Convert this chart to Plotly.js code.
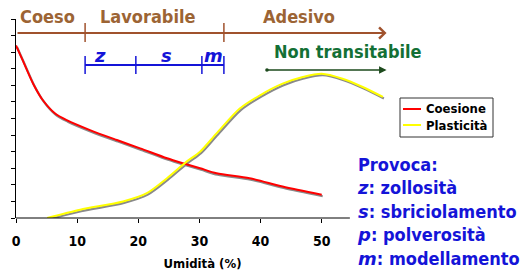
<!DOCTYPE html>
<html>
<head>
<meta charset="utf-8">
<script src="https://cdn.plot.ly/plotly-3.0.1.min.js"></script>
<style>html,body{margin:0;padding:0;background:#fff}#chart{width:521px;height:271px}</style>
</head>
<body>
<div id="chart"></div>
<script>
// ---- data ----
var humidityC = [0, 1.1, 2.8, 4.4, 6.4, 8.3, 12.1, 16.5, 20.3, 24.7, 27.3, 30.1, 32.8, 38.2, 43.6, 50];
var cohesion  = [10.4, 9.5, 8.1, 7.1, 6.3, 5.9, 5.3, 4.7, 4.2, 3.6, 3.3, 3.0, 2.7, 2.4, 1.9, 1.4];
var humidityP = [5.1, 10.5, 17.5, 21.4, 24.7, 27.9, 30.1, 32.8, 36.6, 39.9, 43.6, 46.9, 50, 53.4, 56.7, 60];
var plasticity = [0, 0.5, 1.0, 1.5, 2.4, 3.4, 4.0, 5.1, 6.6, 7.4, 8.1, 8.5, 8.7, 8.4, 7.9, 7.3];
var xTicks = [0, 10, 20, 30, 40, 50];
var seriesNames = ['Coesione', 'Plasticità'];
var seriesColors = ['#ff0000', '#ffff00'];
var zoneNames = ['Coeso', 'Lavorabile', 'Adesivo'];
var zoneLimits = [11.3, 34.0];          // humidity limits between zones
var workLetters = ['z', 's', 'm'];
var workLimits = [11.3, 19.6, 30.4, 34.0];
var nonTransitStart = 40.8;
var xMax = 60.6;
var provocaKeys = ['z', 's', 'p', 'm'];
var provocaWords = ['zollosità', 'sbriciolamento', 'polverosità', 'modellamento'];

var FONT = 'DejaVu Sans Condensed, DejaVu Sans, Verdana, sans-serif';
var ITAL = '<span style="font-family:\'DejaVu Sans\'"><i>';
var BROWN_T = '#9c6434', BROWN_L = '#a0522d', BLUE = '#1414d8', GREEN_T = '#137035', GREEN_L = '#1d4a1d';

var pxX = 1 / (373 / 61), pxY = 1 / (199 / 12);
function yp(py) { return (218 - py) / 199; }
function xp(px) { return (px - 16) / 373; }

var traces = [
  {x: humidityC, y: cohesion, xaxis: 'x2', yaxis: 'y2', mode: 'lines', line: {color: '#8a8a8a', width: 2.2, shape: 'spline', smoothing: 0.8}, showlegend: false, hoverinfo: 'skip'},
  {x: humidityP, y: plasticity, xaxis: 'x2', yaxis: 'y2', mode: 'lines', line: {color: '#8a8a8a', width: 2.2, shape: 'spline', smoothing: 0.8}, showlegend: false, hoverinfo: 'skip'},
  {x: humidityC, y: cohesion, xaxis: 'x3', yaxis: 'y3', name: seriesNames[0], mode: 'lines', line: {color: seriesColors[0], width: 2, shape: 'spline', smoothing: 0.8}, showlegend: false},
  {x: humidityP, y: plasticity, xaxis: 'x3', yaxis: 'y3', name: seriesNames[1], mode: 'lines', line: {color: seriesColors[1], width: 2, shape: 'spline', smoothing: 0.8}, showlegend: false}
];

var shapes = [
  {type: 'line', xref: 'x', yref: 'paper', x0: 0, x1: 54.6, y0: 0, y1: 0, line: {color: '#000', width: 1}}
];
zoneLimits.forEach(function (v) {
  shapes.push({type: 'line', xref: 'x', yref: 'paper', x0: v, x1: v, y0: yp(23), y1: yp(42), line: {color: BROWN_L, width: 1.5}});
});
shapes.push({type: 'line', xref: 'x', yref: 'paper', x0: workLimits[0], x1: workLimits[workLimits.length - 1], y0: yp(65), y1: yp(65), line: {color: BLUE, width: 2}});
workLimits.forEach(function (v) {
  shapes.push({type: 'line', xref: 'x', yref: 'paper', x0: v, x1: v, y0: yp(56), y1: yp(74), line: {color: BLUE, width: 1.5}});
});
// legend box (manual)
shapes.push({type: 'rect', xref: 'paper', yref: 'paper', x0: xp(400), x1: xp(493), y0: yp(98), y1: yp(137), line: {color: '#333', width: 1}, fillcolor: '#fff'});
seriesNames.forEach(function (n, i) {
  var py = 109 + i * 16;
  shapes.push({type: 'line', xref: 'paper', yref: 'paper', x0: xp(403), x1: xp(421), y0: yp(py), y1: yp(py), line: {color: seriesColors[i], width: 2}});
});

var annotations = [];
// brown arrow
annotations.push({xref: 'x', yref: 'paper', x: xMax, y: yp(33), axref: 'x', ayref: 'pixel', ax: 0, ay: 0,
  text: '', showarrow: true, arrowhead: 4, arrowsize: 1.1, arrowwidth: 2, arrowcolor: BROWN_L, font: {size: 1}});
// green arrow
annotations.push({xref: 'x', yref: 'paper', x: xMax, y: yp(70), axref: 'x', ayref: 'pixel', ax: nonTransitStart, ay: 0,
  text: '', showarrow: true, arrowhead: 2, startarrowhead: 6, arrowside: 'end+start', arrowsize: 1, startarrowsize: 0.6, arrowwidth: 1.5, arrowcolor: GREEN_L, font: {size: 1}});
// zone labels
var zoneCenters = [5.2, 21.6, 46.3];
zoneNames.forEach(function (n, i) {
  annotations.push({xref: 'x', yref: 'paper', x: zoneCenters[i], y: yp(17), xanchor: 'center', yanchor: 'middle', text: n, showarrow: false,
    font: {family: FONT, size: 18, weight: 'bold', color: BROWN_T}});
});
var letterCenters = [13.8, 24.6, 32.3];
workLetters.forEach(function (n, i) {
  annotations.push({xref: 'x', yref: 'paper', x: letterCenters[i], y: yp(55), xanchor: 'center', yanchor: 'middle', text: ITAL + n + '</i></span>', showarrow: false,
    font: {family: FONT, size: 18, weight: 'bold', color: BLUE}});
});
annotations.push({xref: 'x', yref: 'paper', x: 54.3, y: yp(51), xanchor: 'center', yanchor: 'middle', text: 'Non transitabile', showarrow: false,
  font: {family: FONT, size: 18, weight: 'bold', color: GREEN_T}});
var provText = ['Provoca:'].concat(provocaKeys.map(function (k, i) { return ITAL + k + '</i></span>: ' + provocaWords[i]; })).join('<br>');
annotations.push({xref: 'paper', yref: 'paper', x: xp(355), y: yp(211), xanchor: 'left', yanchor: 'middle', align: 'left',
  text: provText, showarrow: false, font: {family: FONT, size: 18, weight: 'bold', color: BLUE}});
// legend texts
seriesNames.forEach(function (n, i) {
  annotations.push({xref: 'paper', yref: 'paper', x: xp(424), y: yp(109 + i * 16), xanchor: 'left', yanchor: 'middle', text: n, showarrow: false,
    font: {family: FONT, size: 13, weight: 'bold', color: '#000'}});
});

var layout = {
  width: 521, height: 271,
  margin: {l: 16, r: 132, t: 19, b: 53, pad: 0},
  paper_bgcolor: '#fff', plot_bgcolor: '#fff',
  showlegend: false,
  xaxis: {range: [0, 61], tickvals: xTicks, ticktext: xTicks.map(String), ticks: 'outside', ticklen: 4, tickcolor: '#000',
    showline: false, showgrid: false, zeroline: false, ticklabelstandoff: 6,
    tickfont: {family: FONT, size: 14, weight: 'bold', color: '#000'},
    title: {text: 'Umidità (%)', font: {family: FONT, size: 13, weight: 'bold', color: '#000'}, standoff: 14}},
  yaxis: {range: [0, 12], tick0: 0, dtick: 1, ticks: 'outside', ticklen: 4, tickcolor: '#000', showticklabels: false,
    showline: true, linecolor: '#000', linewidth: 1, showgrid: false, zeroline: false},
  xaxis2: {overlaying: 'x', range: [0 - pxX, 61 - pxX], visible: false},
  yaxis2: {overlaying: 'y', range: [0 + 1.5 * pxY, 12 + 1.5 * pxY], visible: false},
  xaxis3: {overlaying: 'x', range: [0, 61], visible: false},
  yaxis3: {overlaying: 'y', range: [0, 12], visible: false},
  shapes: shapes,
  annotations: annotations
};

Plotly.newPlot('chart', traces, layout, {staticPlot: true, displayModeBar: false});
</script>
</body>
</html>
